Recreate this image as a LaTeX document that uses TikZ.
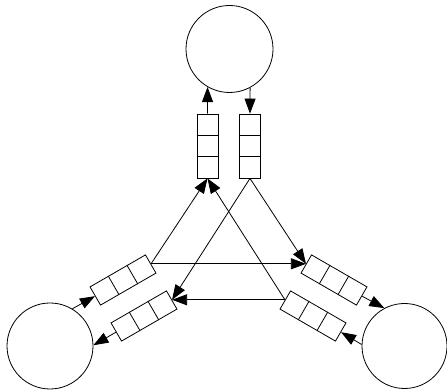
\documentclass[tikz,border=0pt]{standalone}
\usetikzlibrary{arrows.meta,calc}
\tikzset{
  proc/.style={circle,draw,line width=0.8pt,minimum size=86pt,inner sep=0pt},
  queue/.style={rectangle,draw,line width=0.8pt,minimum width=64pt,minimum height=21pt,inner sep=0pt,fill=white},
  arr/.style={line width=0.8pt,-{Triangle[length=15pt,width=11pt]}},
  qline/.style={line width=0.8pt}
}
\newcommand{\qdivide}[1]{%
  \draw[qline] ($(#1.north west)!1/3!(#1.north east)$) -- ($(#1.south west)!1/3!(#1.south east)$);
  \draw[qline] ($(#1.north west)!2/3!(#1.north east)$) -- ($(#1.south west)!2/3!(#1.south east)$);}
\begin{document}
\begin{tikzpicture}[x=1pt,y=1pt]
\useasboundingbox (0,0) rectangle (447,390);
% processes
\node[proc,minimum size=87pt] (cT) at (229.5,341) {};
\node[proc] (cBL) at (50,44) {};
\node[proc,minimum size=85pt] (cBR) at (404.5,44) {};
% queues
\node[queue,rotate=90] (qTl) at (207.5,244) {};
\node[queue,rotate=90] (qTr) at (250,244) {};
\node[queue,rotate=30] (qBLu) at (123,110) {};
\node[queue,rotate=30] (qBLl) at (144,74) {};
\node[queue,rotate=-30] (qBRu) at (334,110) {};
\node[queue,rotate=-30] (qBRl) at (313,74) {};
\qdivide{qTl}\qdivide{qTr}\qdivide{qBLu}\qdivide{qBLl}\qdivide{qBRu}\qdivide{qBRl}
% process <-> queue
\draw[arr] (qTl.east) -- (cT.240);
\draw[arr] (cT.298) -- (qTr.east);
\draw[arr] (cBL.59) -- (qBLu.west);
\draw[arr] (qBLl.west) -- (cBL.1);
\draw[arr] (qBRu.east) -- (cBR.118);
\draw[arr] (cBR.178) -- (qBRl.east);
% channels
\draw[arr] (qBLu.east) -- (qTl.west);
\draw[arr] (qBRl.west) -- (qTl.west);
\draw[arr] (qTr.west) -- (qBRu.west);
\draw[arr] (qTr.west) -- (qBLl.east);
\draw[arr] (qBLu.east) -- (qBRu.west);
\draw[arr] (qBRl.west) -- (qBLl.east);
\end{tikzpicture}
\end{document}
